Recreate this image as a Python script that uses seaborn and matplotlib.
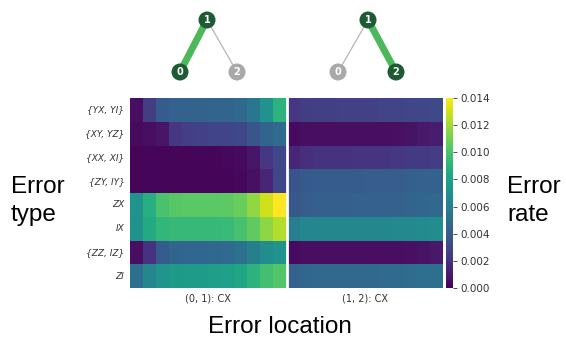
import numpy as np
import pandas as pd
import matplotlib
matplotlib.use("Agg")
import matplotlib.pyplot as plt
import seaborn as sns

error_types = ["{YX, YI}", "{XY, YZ}", "{XX, XI}", "{ZY, IY}", "ZX", "IX", "{ZZ, IZ}", "ZI"]
locations = ["(0, 1): CX", "(1, 2): CX"]

# error rate per error type, sampled across each location panel (left -> right)
rates_01 = [
    [0.0005, 0.0025, 0.0040, 0.0043, 0.0044, 0.0044, 0.0045, 0.0045, 0.0047, 0.0055, 0.0072, 0.0090],
    [0.0004, 0.0005, 0.0008, 0.0022, 0.0026, 0.0027, 0.0028, 0.0028, 0.0030, 0.0037, 0.0045, 0.0048],
    [0.0002, 0.0002, 0.0002, 0.0002, 0.0002, 0.0002, 0.0002, 0.0003, 0.0004, 0.0008, 0.0022, 0.0030],
    [0.0002, 0.0002, 0.0002, 0.0002, 0.0002, 0.0002, 0.0002, 0.0002, 0.0003, 0.0006, 0.0015, 0.0030],
    [0.0072, 0.0088, 0.0100, 0.0103, 0.0104, 0.0104, 0.0104, 0.0105, 0.0108, 0.0117, 0.0130, 0.0140],
    [0.0070, 0.0085, 0.0092, 0.0094, 0.0094, 0.0094, 0.0094, 0.0095, 0.0099, 0.0106, 0.0116, 0.0124],
    [0.0005, 0.0020, 0.0040, 0.0045, 0.0046, 0.0046, 0.0047, 0.0048, 0.0052, 0.0060, 0.0068, 0.0072],
    [0.0050, 0.0065, 0.0073, 0.0076, 0.0077, 0.0077, 0.0078, 0.0079, 0.0083, 0.0090, 0.0098, 0.0102],
]
rates_12 = [
    [0.0022, 0.0025, 0.0026, 0.0026, 0.0027, 0.0027, 0.0027, 0.0028, 0.0028, 0.0029, 0.0030, 0.0031],
    [0.0004, 0.0005, 0.0005, 0.0005, 0.0005, 0.0005, 0.0005, 0.0005, 0.0006, 0.0007, 0.0009, 0.0011],
    [0.0015, 0.0019, 0.0020, 0.0020, 0.0020, 0.0021, 0.0021, 0.0021, 0.0022, 0.0023, 0.0024, 0.0025],
    [0.0036, 0.0039, 0.0040, 0.0040, 0.0040, 0.0040, 0.0041, 0.0041, 0.0041, 0.0042, 0.0043, 0.0044],
    [0.0038, 0.0041, 0.0042, 0.0042, 0.0042, 0.0043, 0.0043, 0.0043, 0.0044, 0.0045, 0.0046, 0.0047],
    [0.0060, 0.0064, 0.0065, 0.0065, 0.0065, 0.0065, 0.0065, 0.0065, 0.0066, 0.0066, 0.0067, 0.0068],
    [0.0004, 0.0005, 0.0005, 0.0005, 0.0005, 0.0005, 0.0005, 0.0005, 0.0005, 0.0006, 0.0007, 0.0009],
    [0.0043, 0.0046, 0.0047, 0.0047, 0.0047, 0.0047, 0.0047, 0.0048, 0.0048, 0.0049, 0.0050, 0.0051],
]
cbar_ticks = [0.000, 0.002, 0.004, 0.006, 0.008, 0.010, 0.012, 0.014]

# coupling-map sketches: node positions (pixel layout) and highlighted edge
graph_nodes = {
    "left": {"0": (180, 72), "1": (207, 20), "2": (237, 72)},
    "right": {"0": (338, 72), "1": (368, 20), "2": (396, 72)},
}
graph_active = {"left": ("1", "0"), "right": ("1", "2")}

W, H = 566, 339
plt.rcParams["font.family"] = ["DejaVu Sans"]
fig = plt.figure(figsize=(W / 100, H / 100), dpi=100)

n = len(rates_01[0])
data = pd.DataFrame(np.hstack([np.array(rates_01), np.array(rates_12)]), index=error_types)

ax = fig.add_axes([130 / W, 1 - 288 / H, 313 / W, 190 / H])
cax = fig.add_axes([446 / W, 1 - 288 / H, 7 / W, 190 / H])
sns.heatmap(data, ax=ax, cmap="viridis", vmin=0.0, vmax=0.014, cbar_ax=cax,
            cbar_kws={"ticks": cbar_ticks}, xticklabels=False, yticklabels=True)
ax.axvline(n, color="white", linewidth=2)
ax.set_xticks([n / 2, n + n / 2])
ax.set_xticklabels(locations, fontsize=7, color="#333333")
ax.set_yticklabels(error_types, rotation=0, fontsize=6.5, style="italic", color="#333333")
ax.tick_params(axis="both", length=0, pad=4)
cax.tick_params(labelsize=7.5, length=3, width=0.6, colors="#333333", pad=2)
cax.yaxis.set_major_formatter(matplotlib.ticker.FormatStrFormatter("%.3f"))

big = dict(fontsize=17.5, family="Liberation Sans", color="black")
fig.text(11 / W, 1 - 201 / H, "Error\ntype", ha="left", va="center", linespacing=1.3, **big)
fig.text(507 / W, 1 - 201 / H, "Error\nrate", ha="left", va="center", linespacing=1.3, **big)
fig.text(280 / W, 1 - 327 / H, "Error location", ha="center", va="center", **big)

# overlay for coupling graphs
gx = fig.add_axes([0, 0, 1, 1], zorder=5)
gx.set_xlim(0, W)
gx.set_ylim(H, 0)
gx.axis("off")
dark, light_green, grey = "#1e5a34", "#4cb85a", "#a9a9a9"
for key, nodes in graph_nodes.items():
    a, b = graph_active[key]
    for other in ("0", "2"):
        x0, y0 = nodes["1"]
        x1, y1 = nodes[other]
        if other == b:
            gx.plot([x0, x1], [y0, y1], color=light_green, linewidth=5, solid_capstyle="butt", zorder=1)
        else:
            gx.plot([x0, x1], [y0, y1], color="#b5b5b5", linewidth=0.9, zorder=1)
    for name, (x, y) in nodes.items():
        col = dark if name in (a, b) else grey
        gx.scatter([x], [y], s=150, color=col, zorder=2, edgecolors="none")
        gx.text(x, y, name, color="white", fontsize=7, fontweight="bold",
                ha="center", va="center", zorder=3)

fig.savefig("out.png", dpi=100)
